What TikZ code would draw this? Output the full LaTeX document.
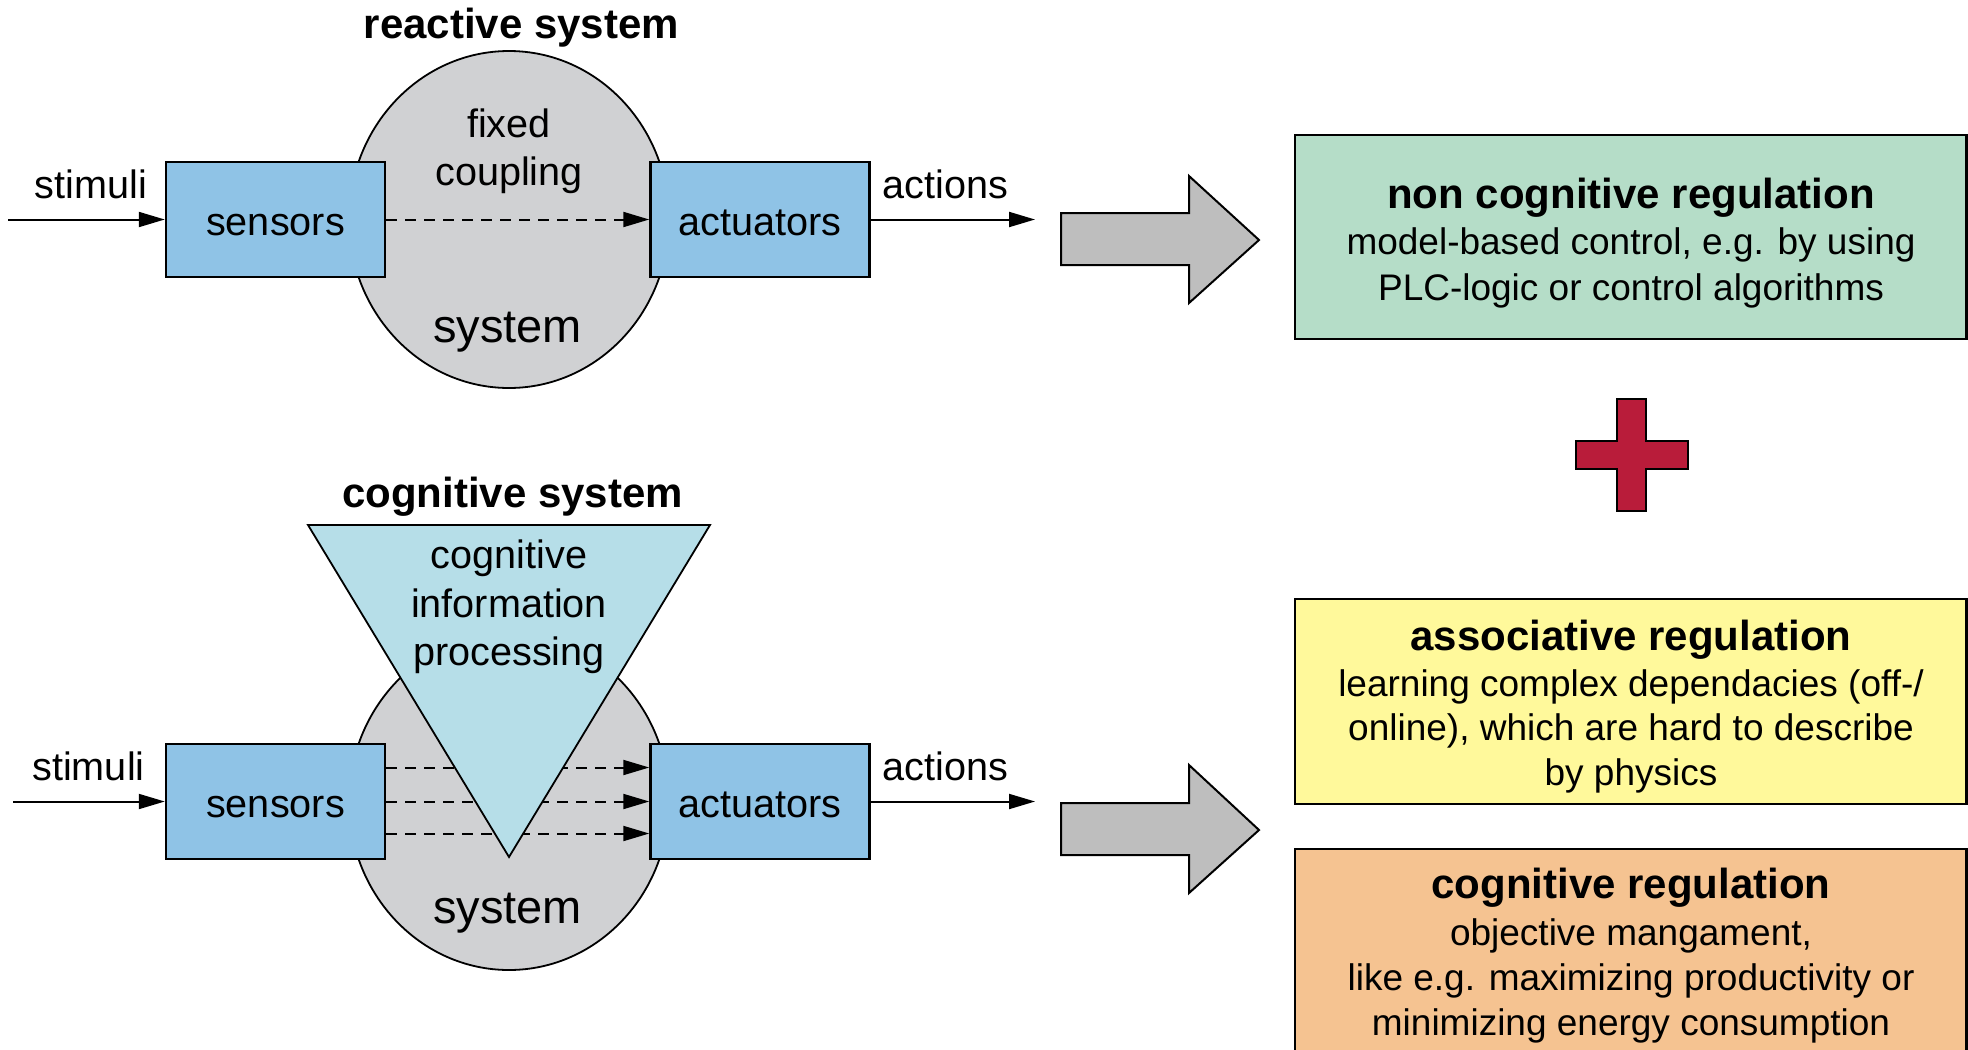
\documentclass[tikz,border=0pt]{standalone}
\usepackage{fontspec}
\setmainfont{Liberation Sans}
\usetikzlibrary{arrows.meta,shapes.geometric}
\definecolor{boxblue}{RGB}{143,195,230}
\definecolor{sysgrey}{RGB}{208,209,211}
\definecolor{tricol}{RGB}{182,222,232}
\definecolor{greenbox}{RGB}{181,221,200}
\definecolor{yellowbox}{RGB}{255,249,155}
\definecolor{orangebox}{RGB}{245,195,145}
\definecolor{bigarrow}{RGB}{190,190,190}
\definecolor{plusred}{RGB}{185,28,58}
\newcommand\myLbl{\fontsize{19.8pt}{24pt}\selectfont}
\newcommand\myTtl{\fontsize{21pt}{25pt}\selectfont\bfseries}
\newcommand\myBody{\fontsize{18.5pt}{22pt}\selectfont}
\newcommand\mySys{\fontsize{23.5pt}{28pt}\selectfont}
\tikzset{
  unitbox/.style={draw, line width=1.25pt, fill=boxblue, minimum width=109.5pt, minimum height=57.5pt,
    inner sep=0pt, font=\myLbl, text height=15.5pt, text depth=0pt},
  sysel/.style={draw, ellipse, fill=sysgrey, line width=0.9pt, minimum width=160pt, minimum height=168.5pt, inner sep=0pt},
  lbl/.style={anchor=base, inner sep=0pt, font=\myLbl},
  ttl/.style={anchor=base, inner sep=0pt, font=\myTtl},
  body/.style={anchor=base, inner sep=0pt, font=\myBody},
  syslbl/.style={anchor=base, inner sep=0pt, font=\mySys},
  sig/.style={line width=1pt, -{Triangle[length=13pt,width=7.5pt]}},
  coup/.style={line width=1pt, dash pattern=on 5.5pt off 4pt, -{Triangle[length=13pt,width=7.5pt]}},
  regbox/.style={draw, line width=1.25pt, minimum width=335.75pt, inner sep=0pt},
  bigarr/.style={draw, line width=1pt, fill=bigarrow},
  tri/.style={draw, line width=0.9pt, fill=tricol}
}
\begin{document}
\begin{tikzpicture}[x=0.5pt,y=-0.5pt]
\useasboundingbox (0,0) rectangle (1968,1049);
\clip (0,0) rectangle (1968,1049);

% ---------- reactive system ----------
\node[sysel] (ell1) at (509,219.5) {};
\node[unitbox] (sens1) at (275.5,219.5) {sensors};
\node[unitbox] (act1) at (760,219.5) {actuators};
\coordinate (in1) at (8,219.5);
\coordinate (out1) at (1035,219.5);
\draw[sig] (in1) -- (sens1.west);
\draw[sig] (act1.east) -- (out1);
\draw[coup] (sens1.east) -- (act1.west);
\node[lbl] (stim1) at (91,198) {stimuli};
\node[lbl] (actn1) at (945.5,198) {actions};
\node[ttl] (title1) at (521.5,39) {reactive system};
\node[lbl] (fixed) at (509,137) {fixed};
\node[lbl] (coupling) at (509,185) {coupling};
\node[syslbl] (sys1) at (507.5,342) {system};

% ---------- cognitive system ----------
\node[sysel] (ell2) at (509,801.5) {};
\node[unitbox] (sens2) at (275.5,801.5) {sensors};
\node[unitbox] (act2) at (760,801.5) {actuators};
\coordinate (in2) at (13,801.5);
\coordinate (out2) at (1035,801.5);
\draw[sig] (in2) -- (sens2.west);
\draw[sig] (act2.east) -- (out2);
\draw[coup] ([yshift=17pt]sens2.east) -- ([yshift=17pt]act2.west);
\draw[coup] (sens2.east) -- (act2.west);
\draw[coup] ([yshift=-16pt]sens2.east) -- ([yshift=-16pt]act2.west);
\draw[tri] (308,525) -- (710,525) -- (509,857) -- cycle;
\node[lbl] (cog1) at (509,568) {cognitive};
\node[lbl] (cog2) at (509,617) {information};
\node[lbl] (cog3) at (509,665) {processing};
\node[lbl] (stim2) at (88.5,780) {stimuli};
\node[lbl] (actn2) at (945.5,780) {actions};
\node[ttl] (title2) at (512.5,507) {cognitive system};
\node[syslbl] (sys2) at (507.5,923) {system};

% ---------- big arrows ----------
\draw[bigarr] (1061,213) -- (1189,213) -- (1189,176) -- (1259,240) -- (1189,303) -- (1189,265) -- (1061,265) -- cycle;
\draw[bigarr] (1061,803) -- (1189,803) -- (1189,765) -- (1259,830) -- (1189,893) -- (1189,855) -- (1061,855) -- cycle;

% ---------- regulation boxes ----------
\node[regbox, fill=greenbox, minimum height=102pt] (nonc) at (1630.75,237) {};
\node[ttl] (nonct) at (1631,208) {non cognitive regulation};
\node[body] (nonc1) at (1631,254) {model-based control, e.g. by using};
\node[body] (nonc2) at (1631,300) {PLC-logic or control algorithms};

\draw[line width=1pt, fill=plusred] (1617,399) -- (1646,399) -- (1646,441) -- (1688,441) -- (1688,469) -- (1646,469)
  -- (1646,511) -- (1617,511) -- (1617,469) -- (1576,469) -- (1576,441) -- (1617,441) -- cycle;

\node[regbox, fill=yellowbox, minimum height=102.5pt] (assoc) at (1630.75,701.5) {};
\node[ttl] (assoct) at (1631,650) {associative regulation};
\node[body] (assoc1) at (1631,696) {learning complex dependacies (off-/};
\node[body] (assoc2) at (1631,740) {online), which are hard to describe};
\node[body] (assoc3) at (1631,785) {by physics};

\node[regbox, fill=orangebox, minimum height=110.5pt] (cogr) at (1630.75,959.5) {};
\node[ttl] (cogrt) at (1631,898) {cognitive regulation};
\node[body] (cogr1) at (1631,945) {objective mangament,};
\node[body] (cogr2) at (1631,990) {like e.g. maximizing productivity or};
\node[body] (cogr3) at (1631,1035) {minimizing energy consumption};
\end{tikzpicture}
\end{document}
